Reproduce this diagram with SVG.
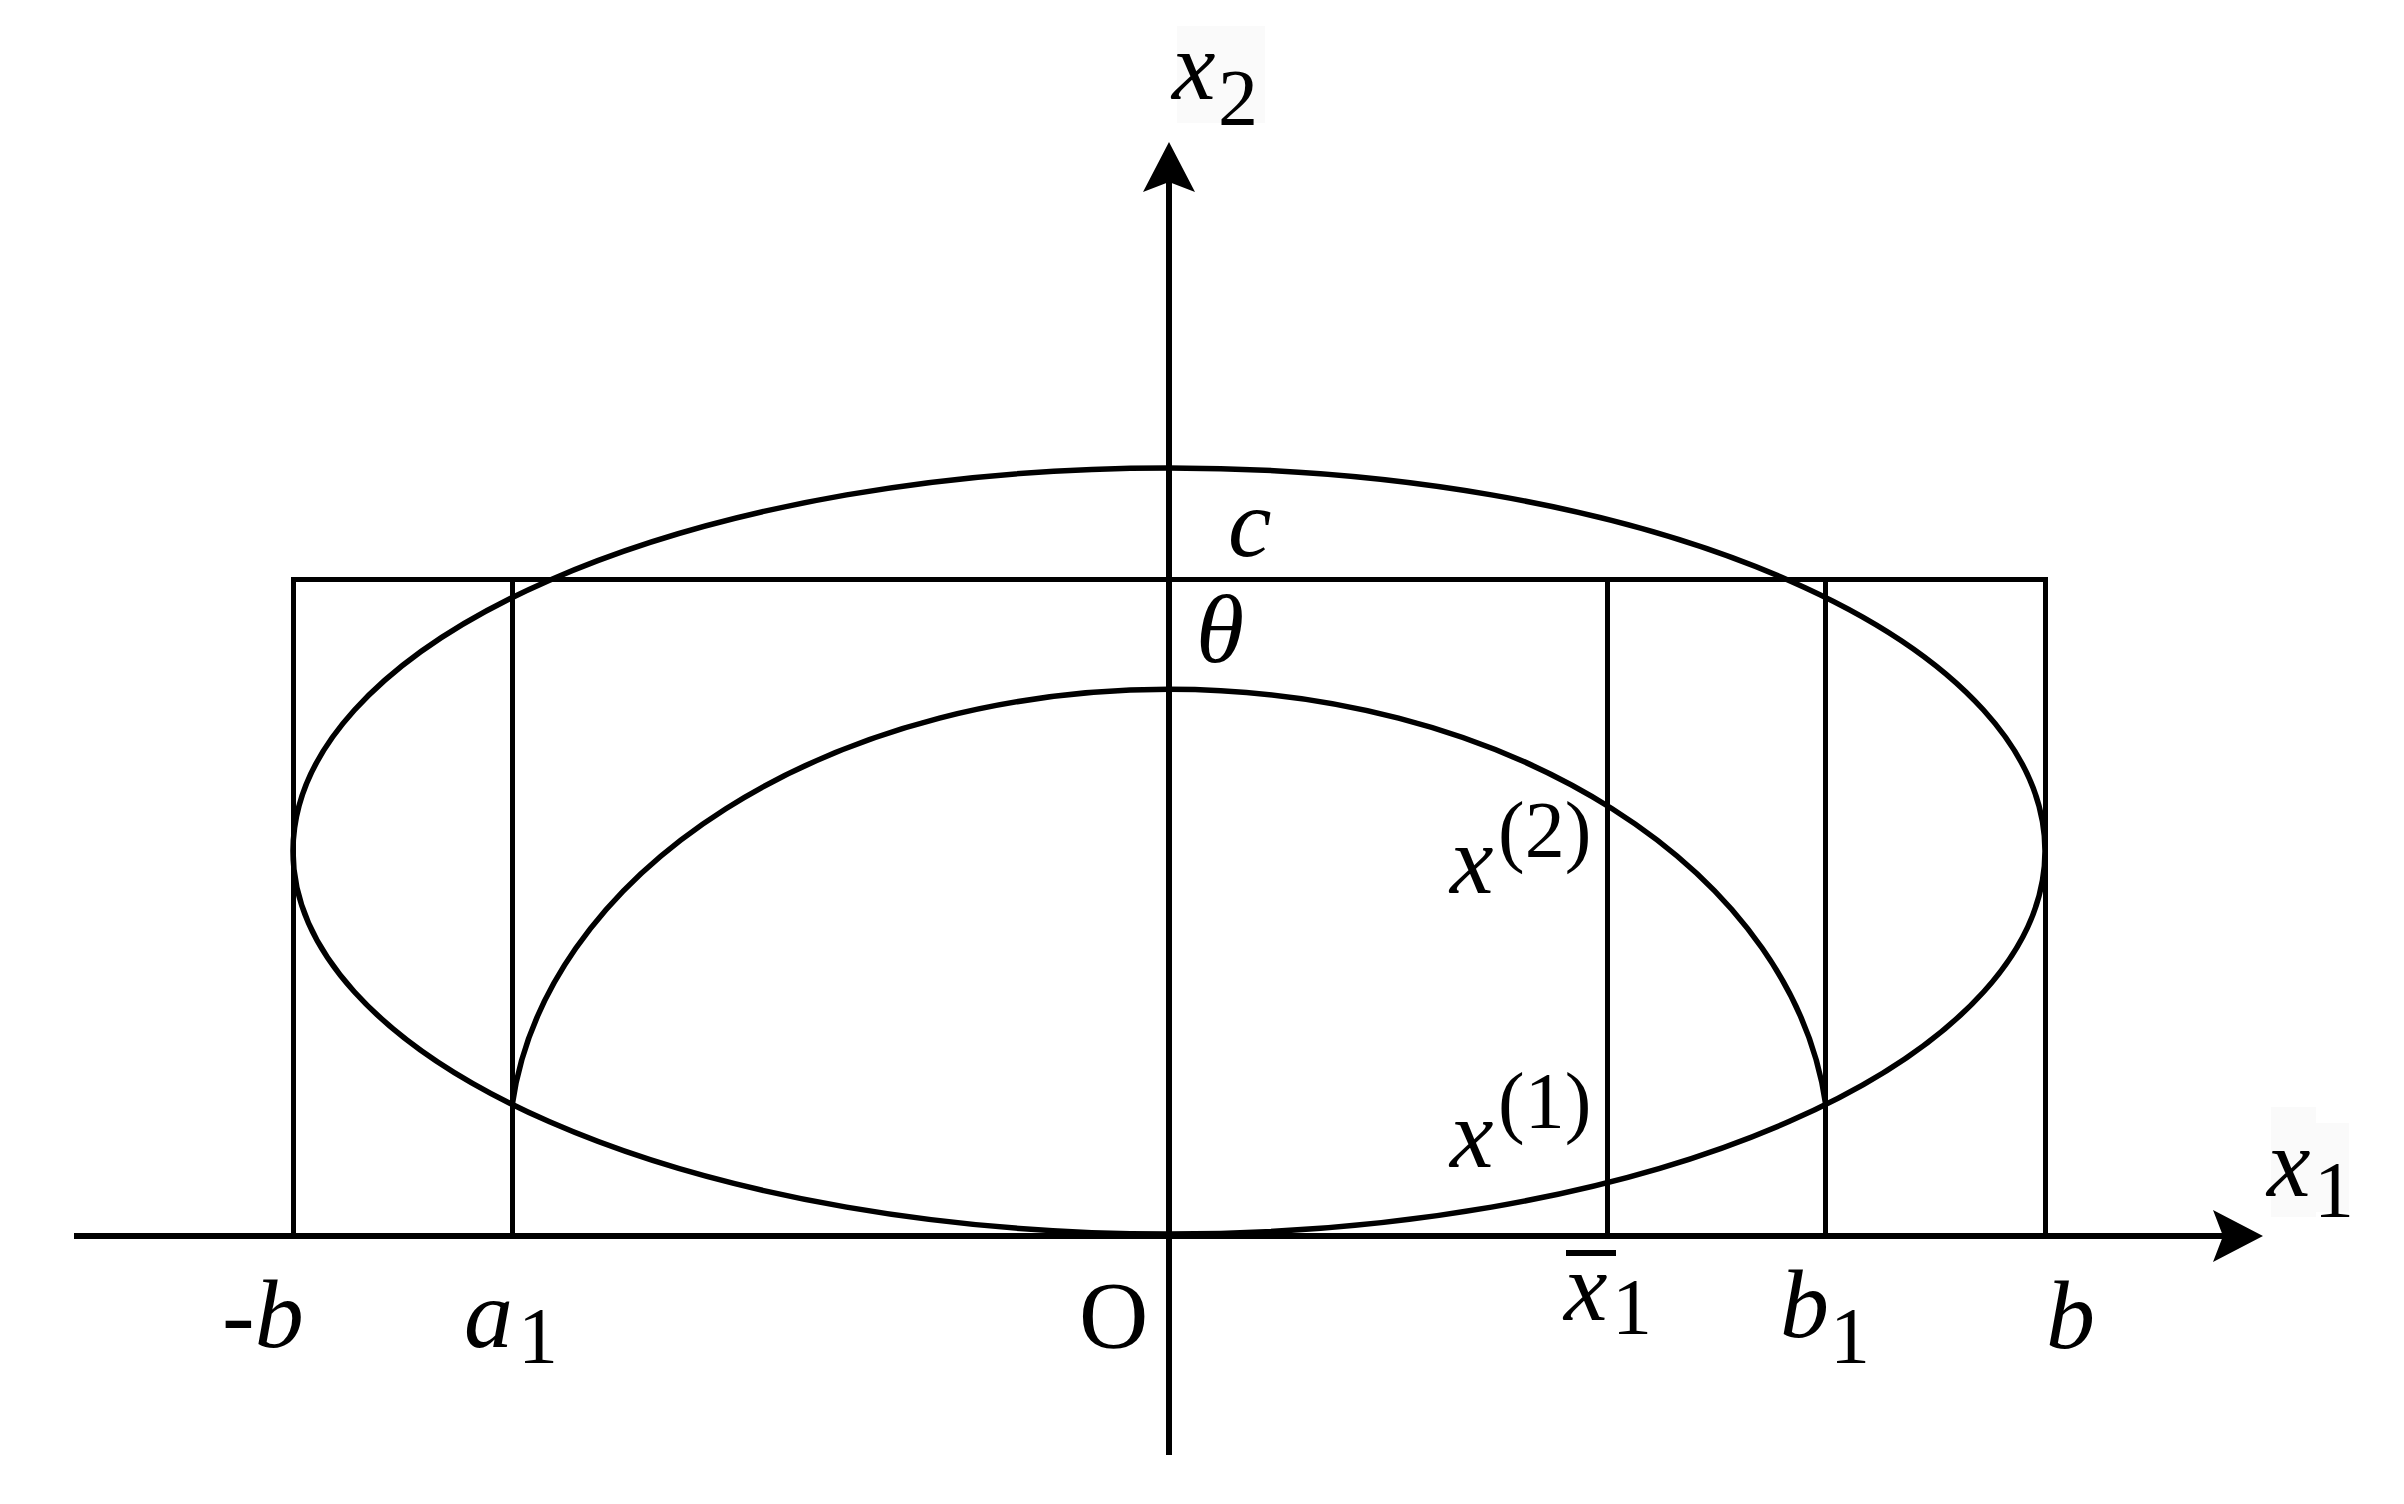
<svg xmlns="http://www.w3.org/2000/svg" width="2404" height="1504" viewBox="0 0 2404 1504">
<style>
.ln{fill:none;stroke:#000;stroke-width:5.5}
.st{fill:none;stroke:#000;stroke-width:5;shape-rendering:crispEdges}
.ax{fill:none;stroke:#000;stroke-width:6;shape-rendering:crispEdges}
.it{font-family:"Liberation Serif","Times New Roman",serif;font-style:italic;font-size:98px;fill:#000}
.rm{font-family:"Liberation Serif","Times New Roman",serif;font-size:96px;fill:#000}
.sb{font-family:"Liberation Serif","Times New Roman",serif;font-size:80px;fill:#000}
.bg{fill:#fafafa}
</style>
<defs>
<marker id="arr" markerUnits="userSpaceOnUse" markerWidth="52" markerHeight="54" viewBox="0 -27 52 54" refX="10" refY="0" orient="auto">
<path d="M50,0 L0,-26 L10,0 L0,26 Z" fill="#000"/>
</marker>
</defs>
<rect width="2404" height="1504" fill="#fff"/>
<g id="label-bg">
<rect class="bg" x="1177" y="26" width="88" height="97"/>
<rect class="bg" x="2271" y="1107" width="45" height="110"/>
<rect class="bg" x="2316" y="1123" width="33" height="89"/>
</g>
<g id="connectors">
<line id="x-axis" class="ax" x1="74" y1="1236" x2="2223" y2="1236" marker-end="url(#arr)"/>
<line id="y-axis" class="ax" x1="1169" y1="1455" x2="1169" y2="182" marker-end="url(#arr)"/>
</g>
<g id="rectangle">
<rect class="st" x="293.5" y="579.5" width="1752" height="657"/>
</g>
<g id="verticals">
<line class="st" x1="512.5" y1="579" x2="512.5" y2="1236"/>
<line class="st" x1="1607.5" y1="579" x2="1607.5" y2="1236"/>
<line class="st" x1="1825.5" y1="579" x2="1825.5" y2="1236"/>
</g>
<g id="outer-ellipse">
<ellipse class="ln" cx="1169" cy="851" rx="876" ry="383"/>
</g>
<g id="inner-arc">
<path class="ln" d="M512.2,1105 A660,461 0 0 1 1825.8,1105"/>
</g>
<g id="labels">
<g id="lbl-x2"><text class="it" x="1172" y="99">x</text><text class="sb" x="1218" y="125">2</text></g>
<g id="lbl-x1"><text class="it" x="2267" y="1196">x</text><text class="sb" x="2314" y="1217">1</text></g>
<text id="lbl-c" class="it" x="1228" y="556">c</text>
<text id="lbl-theta" class="it" x="1196" y="662">θ</text>
<g id="lbl-xp2"><text class="it" x="1450" y="893">x</text><text class="sb" x="1498" y="857">(2)</text></g>
<g id="lbl-xp1"><text class="it" x="1450" y="1167">x</text><text class="sb" x="1498" y="1128">(1)</text></g>
<text id="lbl-mb" class="it" x="222" y="1347">-b</text>
<g id="lbl-a1"><text class="it" x="464" y="1347">a</text><text class="sb" x="518" y="1363">1</text></g>
<text id="lbl-O" class="rm" x="1079" y="1348">O</text>
<g id="lbl-xbar1"><line x1="1566" y1="1253" x2="1616" y2="1253" stroke="#000" stroke-width="6"/><text class="it" x="1564" y="1320">x</text><text class="sb" x="1612" y="1334">1</text></g>
<g id="lbl-b1"><text class="it" x="1780" y="1337">b</text><text class="sb" x="1830" y="1363">1</text></g>
<text id="lbl-b" class="it" x="2046" y="1348">b</text>
</g>
</svg>
